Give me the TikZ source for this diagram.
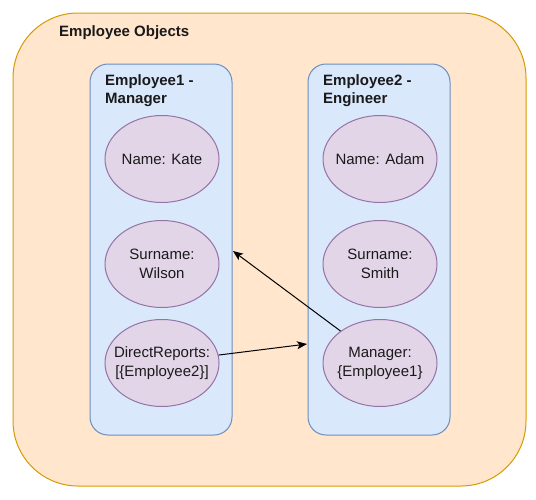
\documentclass[tikz,border=0pt]{standalone}
\usepackage{fontspec}
\setmainfont{Liberation Sans}
\usetikzlibrary{shapes.geometric,arrows.meta}
\definecolor{orfill}{HTML}{FFE6CC}
\definecolor{ordraw}{HTML}{D79B00}
\definecolor{blfill}{HTML}{DAE8FC}
\definecolor{bldraw}{HTML}{6C8EBF}
\definecolor{pufill}{HTML}{E1D5E7}
\definecolor{pudraw}{HTML}{9673A6}
\definecolor{txt}{HTML}{1A1A1A}
\tikzset{
  outerbox/.style={draw=ordraw, fill=orfill, line width=1pt, rounded corners=65pt,
    minimum width=513pt, minimum height=473pt, inner sep=0pt},
  objbox/.style={draw=bldraw, fill=blfill, line width=1pt, rounded corners=18pt,
    minimum width=142pt, minimum height=371pt, inner sep=0pt},
  prop/.style={ellipse, draw=pudraw, fill=pufill, line width=1pt,
    minimum width=114pt, minimum height=87pt, inner xsep=-25pt, inner ysep=0pt,
    align=center, text=txt, font=\fontsize{15}{19}\selectfont},
  titletext/.style={text=txt, font=\bfseries\fontsize{15}{18}\selectfont,
    align=left, inner sep=0pt},
  link/.style={draw=black, line width=1pt, -{Stealth[length=10pt,width=8pt,inset=2.5pt]}}
}
\begin{document}
\begin{tikzpicture}[x=1pt,y=-1pt]
\useasboundingbox (0,0) rectangle (536,499);
\node[outerbox] (outer) at (269.5,249.5) {};
\node[titletext, anchor=base west] (otitle) at (59,36) {Employee Objects};
\node[objbox] (emp1) at (161,249.5) {};
\node[objbox] (emp2) at (379,249.5) {};
\node[titletext, anchor=west] (t1) at (105,91) {Employee1 -\\Manager};
\node[titletext, anchor=west] (t2) at (323,91) {Employee2 -\\Engineer};
\node[prop] (name1) at (162,159) {Name: Kate};
\node[prop] (sur1) at (162,264) {Surname:\\Wilson};
\node[prop] (dr) at (162,363) {DirectReports:\\{[}\{Employee2\}{]}};
\node[prop] (name2) at (380,159) {Name: Adam};
\node[prop] (sur2) at (380,264) {Surname:\\Smith};
\node[prop] (mgr) at (380,363) {Manager:\\\{Employee1\}};
\coordinate (in2) at (307,344);
\coordinate (in1) at (233,251);
\draw[link] (dr.8) -- (in2);
\draw[link] (mgr.141) -- (in1);
\end{tikzpicture}
\end{document}
